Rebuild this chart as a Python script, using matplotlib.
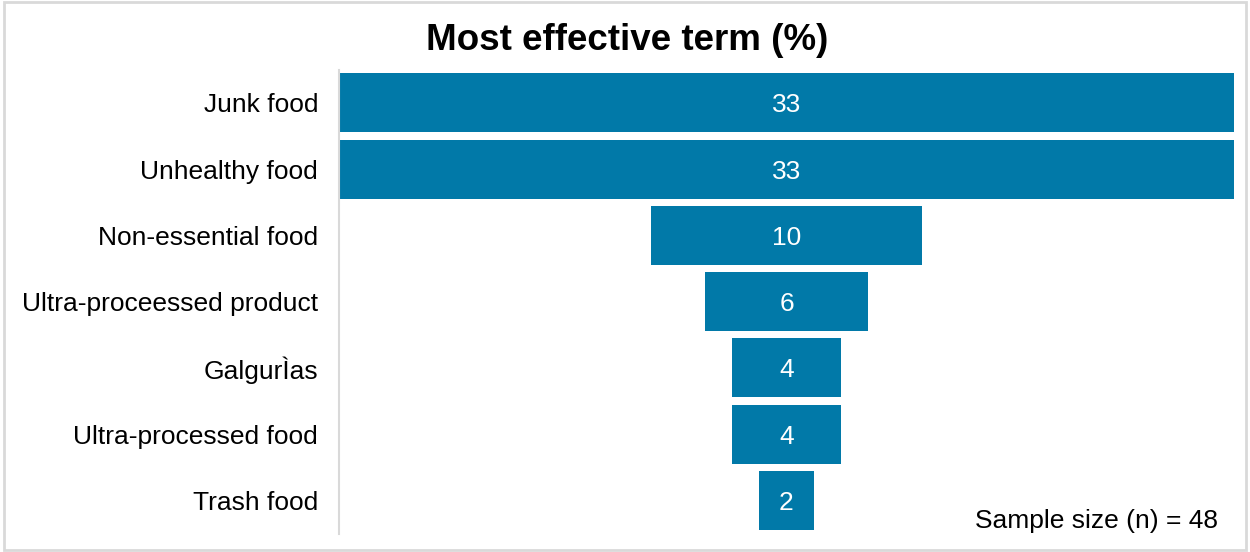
import matplotlib.pyplot as plt
from matplotlib.patches import Rectangle

categories = ["Junk food", "Unhealthy food", "Non-essential food",
              "Ultra-proceessed product", "GalgurÌas", "Ultra-processed food",
              "Trash food"]
values = [33, 33, 10, 6, 4, 4, 2]
sample_size = 48

plt.rcParams['font.family'] = ['Liberation Sans', 'DejaVu Sans']

fig = plt.figure(figsize=(12.5, 5.52), dpi=100)
ax = fig.add_axes([339 / 1250, 1 - 533.6 / 552, (1234 - 339) / 1250, 464 / 552])

ypos = list(range(len(categories)))
lefts = [-v / 2 for v in values]
ax.barh(ypos, values, left=lefts, height=0.89, color='#0179a8')
for y, v in zip(ypos, values):
    ax.text(0, y, str(v), ha='center', va='center_baseline', color='white', fontsize=19)

ax.set_xlim(-16.5, 16.5)
ax.set_ylim(len(categories) - 0.5, -0.5)
ax.set_yticks(ypos)
ax.set_yticklabels(categories, fontsize=19)
ax.tick_params(axis='y', length=0, pad=15)
ax.set_xticks([])
for side in ['top', 'right', 'bottom']:
    ax.spines[side].set_visible(False)
ax.spines['left'].set_color('#d9d9d9')
ax.spines['left'].set_linewidth(1.5)

fig.text(0.502, 1 - 41 / 552, "Most effective term (%)", ha='center', va='center',
         fontsize=26.5, fontweight='bold')
fig.text(1218 / 1250, 1 - 521 / 552, f"Sample size (n) = {sample_size}",
         ha='right', va='center', fontsize=19)

# light grey frame around the whole chart
fig.patches.append(Rectangle((0.003, 0.004), 0.994, 0.993, transform=fig.transFigure,
                             fill=False, edgecolor='#d9d9d9', linewidth=2))

fig.savefig('out.png', dpi=100)
